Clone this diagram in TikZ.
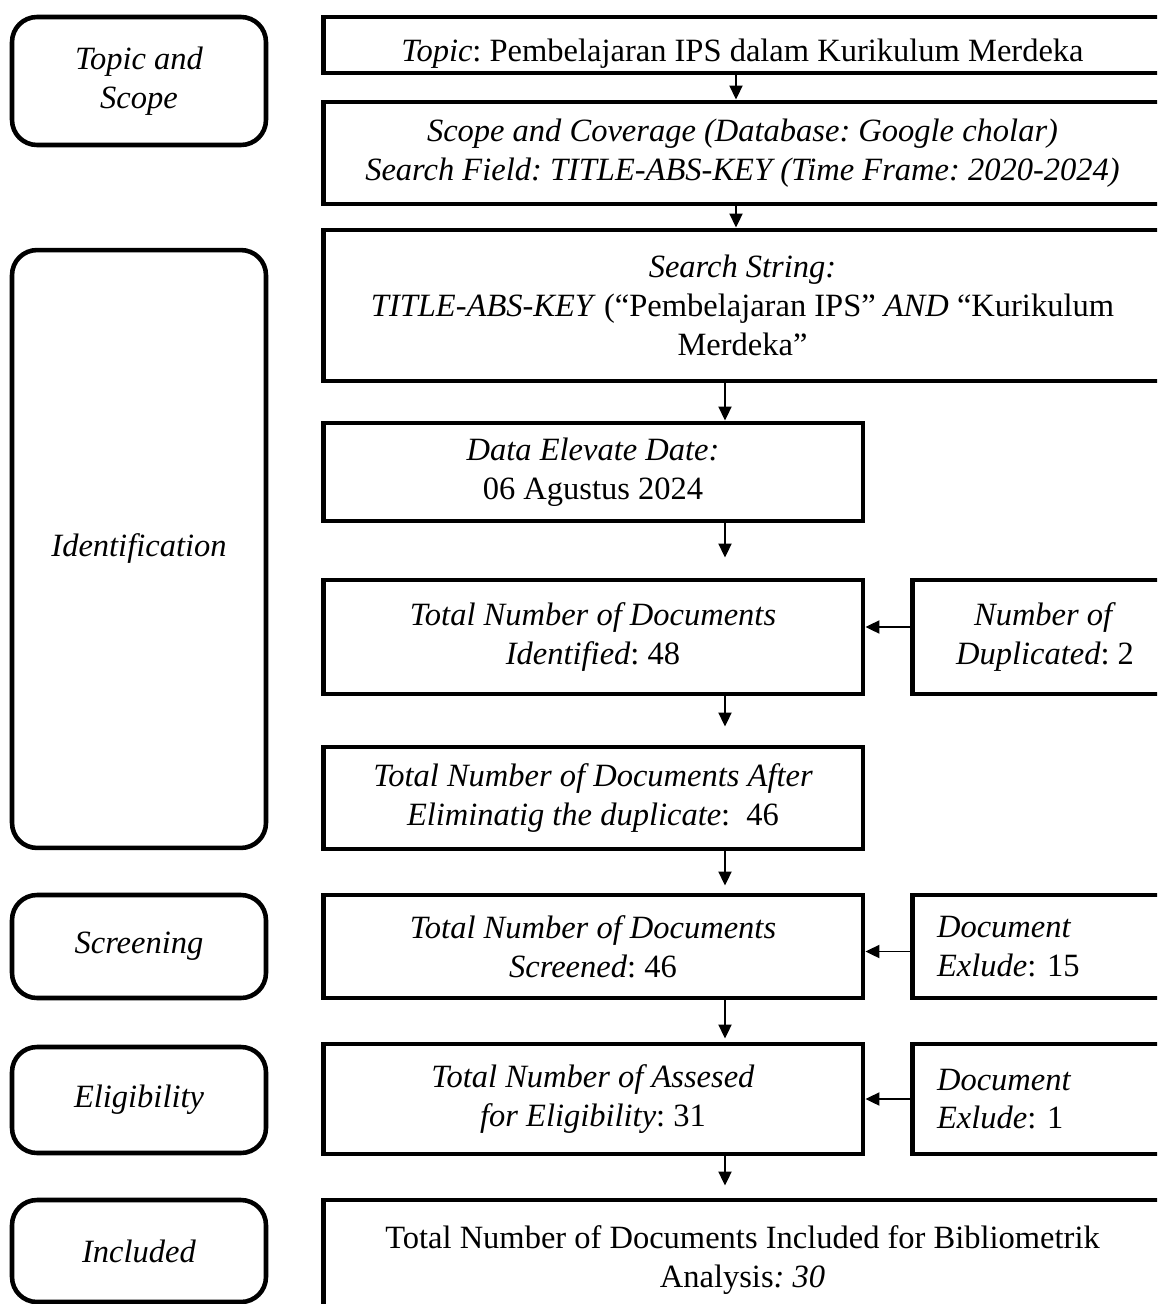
\documentclass[tikz,border=0pt]{standalone}
\usepackage{fontspec}
\setmainfont{Liberation Serif}
\frenchspacing
\usetikzlibrary{arrows.meta}

\begin{document}
\begin{tikzpicture}[x=0.02cm,y=-0.02cm,
  stage/.style={draw, line width=2.6pt, rounded corners=0.5cm, minimum width=5.08cm, align=center, font=\fontsize{18.5}{22}\selectfont\itshape},
  box/.style={draw, line width=2.8pt, align=center, inner sep=0pt, font=\fontsize{18.5}{22}\selectfont},
  sidebox/.style={box, minimum width=5.32cm},
  arr/.style={line width=1.1pt, -{Triangle[length=0.28cm,width=0.26cm]}}]
\useasboundingbox (0,0) rectangle (1157,1304);
\fill[white] (0,0) rectangle (1157,1304);
\clip (0,0) rectangle (1157,1304);

\node[stage, minimum height=2.56cm] (tsL) at (139,81) {Topic and\\Scope};
\node[stage, minimum height=11.96cm] (idL) at (139,549) {Identification};
\node[stage, minimum height=2.06cm] (scL) at (139,946.5) {Screening};
\node[stage, minimum height=2.12cm] (elL) at (139,1100) {Eligibility};
\node[stage, minimum height=2.04cm] (inL) at (139,1251) {Included};

\node[box, minimum width=16.78cm, minimum height=1.12cm] (topic) at (742.5,45) {\raisebox{-0.34cm}[0pt][0pt]{\textit{Topic}: Pembelajaran IPS dalam Kurikulum Merdeka}};
\node[box, minimum width=16.78cm, minimum height=2.04cm] (scope) at (742.5,153) {\textit{Scope and Coverage (Database: Google cholar)}\\\textit{Search Field: TITLE-ABS-KEY (Time Frame: 2020-2024)}};
\node[box, minimum width=16.78cm, minimum height=3.02cm] (search) at (742.5,305.5) {\textit{Search String:}\\\textit{TITLE-ABS-KEY} (“Pembelajaran IPS” \textit{AND} “Kurikulum\\Merdeka”};
\node[box, minimum width=10.8cm, minimum height=1.96cm] (date) at (593,472) {\textit{Data Elevate Date:}\\06 Agustus 2024};
\node[box, minimum width=10.8cm, minimum height=2.28cm] (found) at (593,637) {\textit{Total Number of Documents}\\\textit{Identified}: 48};
\node[sidebox, minimum height=2.28cm] (dup) at (1045,637) {\textit{Number of}\\\textit{Duplicated}: 2};
\node[box, minimum width=10.8cm, minimum height=2.04cm] (elim) at (593,798) {\textit{Total Number of Documents After}\\\textit{Eliminatig the duplicate}:~~46};
\node[box, minimum width=10.8cm, minimum height=2.06cm] (screened) at (593,946.5) {\textit{Total Number of Documents}\\\textit{Screened}: 46};
\node[sidebox, minimum height=2.06cm, text width=4.32cm, inner xsep=0.5cm, align=left] (exA) at (1045,946.5) {\textit{Document}\\\textit{Exlude}: 15};
\node[box, minimum width=10.8cm, minimum height=2.2cm] (assessed) at (593,1099) {\textit{Total Number of Assesed}\\\textit{for Eligibility}: 31};
\node[sidebox, minimum height=2.2cm, text width=4.32cm, inner xsep=0.5cm, align=left] (exB) at (1045,1099) {\textit{Document}\\\textit{Exlude}: 1};
\node[box, minimum width=16.78cm, minimum height=2.4cm] (incl) at (742.5,1260) {Total Number of Documents Included for Bibliometrik\\Analysis\textit{: 30}};

\coordinate (ax0) at (736,0);
\coordinate (ax) at (725,0);

\draw[arr] (topic.south -| ax0) -- (scope.north -| ax0);
\draw[arr] (scope.south -| ax0) -- (search.north -| ax0);
\draw[arr] (search.south -| ax) -- (date.north -| ax);
\draw[arr] (date.south -| ax) -- ([yshift=0.4cm]found.north -| ax);
\draw[arr] (found.south -| ax) -- ([yshift=0.36cm]elim.north -| ax);
\draw[arr] (elim.south -| ax) -- ([yshift=0.14cm]screened.north -| ax);
\draw[arr] (screened.south -| ax) -- ([yshift=0.06cm]assessed.north -| ax);
\draw[arr] (assessed.south -| ax) -- ([yshift=0.24cm]incl.north -| ax);
\draw[arr] ([yshift=0.2cm]dup.west) -- ([yshift=0.2cm]found.east);
\draw[arr] ([yshift=-0.1cm]exA.west) -- ([yshift=-0.1cm]screened.east);
\draw[arr] (exB.west) -- (assessed.east);
\end{tikzpicture}
\end{document}
